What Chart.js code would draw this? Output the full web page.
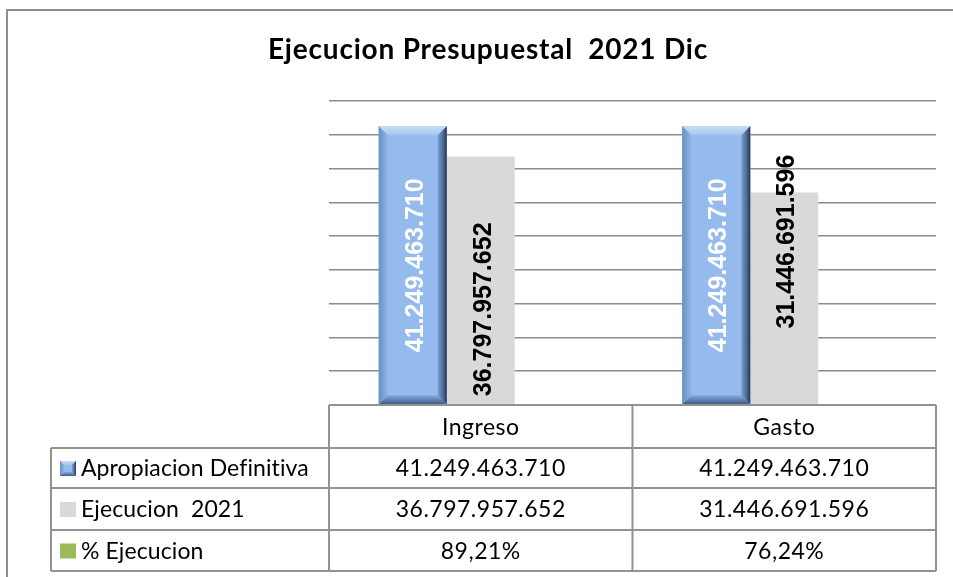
<!DOCTYPE html>
<html>
<head>
<meta charset="utf-8">
<script src="https://cdn.jsdelivr.net/npm/chart.js@4.4.1/dist/chart.umd.min.js"></script>
<style>
  html, body { margin: 0; padding: 0; background: #ffffff; }
  #wrap { width: 953px; height: 577px; position: relative; }
</style>
</head>
<body>
<div id="wrap"><canvas id="c" width="953" height="577"></canvas></div>
<script>
// ---- Data ----
const chartTitle = 'Ejecucion Presupuestal  2021 Dic';
const categories = ['Ingreso', 'Gasto'];
const seriesNames = ['Apropiacion Definitiva', 'Ejecucion  2021', '% Ejecucion'];
const apropiacion = [41249463710, 41249463710];
const ejecucion = [36797957652, 31446691596];
const pctEjecucion = [89.21, 76.24];
const yMax = 45000000000;
const yStep = 5000000000;

// ---- Style ----
const COLORS = ['#95BBEE', '#D9D9D9', '#9BBB59'];
const GRID = '#8c8c8c';
const TABLE_LINE = '#929292';
const TABLE_FONT = '23px Lato, "Open Sans", sans-serif';
const LABEL_FONT = 'bold 25px "Liberation Sans", Arial, sans-serif';

function fmtNum(v) {
  return String(Math.round(v)).replace(/\B(?=(\d{3})+(?!\d))/g, '.');
}
function fmtPct(v) {
  return v.toFixed(2).replace('.', ',') + '%';
}

function drawBevel(ctx, L, T, R, B, d) {
  const face = COLORS[0];
  ctx.save();
  ctx.fillStyle = face;
  ctx.fillRect(L, T, R - L, B - T);
  let g;
  g = ctx.createLinearGradient(0, T, 0, T + d);
  g.addColorStop(0, '#c9ddf6'); g.addColorStop(1, '#a3c5f0');
  ctx.fillStyle = g;
  ctx.beginPath(); ctx.moveTo(L, T); ctx.lineTo(R, T); ctx.lineTo(R - d, T + d); ctx.lineTo(L + d, T + d); ctx.closePath(); ctx.fill();
  g = ctx.createLinearGradient(L, 0, L + d, 0);
  g.addColorStop(0, '#6a8fc2'); g.addColorStop(1, '#8fb5ea');
  ctx.fillStyle = g;
  ctx.beginPath(); ctx.moveTo(L, T); ctx.lineTo(L + d, T + d); ctx.lineTo(L + d, B - d); ctx.lineTo(L, B); ctx.closePath(); ctx.fill();
  g = ctx.createLinearGradient(R - d, 0, R, 0);
  g.addColorStop(0, '#7c9fd0'); g.addColorStop(0.6, '#4b6a95'); g.addColorStop(1, '#233650');
  ctx.fillStyle = g;
  ctx.beginPath(); ctx.moveTo(R, T); ctx.lineTo(R, B); ctx.lineTo(R - d, B - d); ctx.lineTo(R - d, T + d); ctx.closePath(); ctx.fill();
  g = ctx.createLinearGradient(0, B - d, 0, B);
  g.addColorStop(0, '#86aadd'); g.addColorStop(1, '#3f5d86');
  ctx.fillStyle = g;
  ctx.beginPath(); ctx.moveTo(L, B); ctx.lineTo(R, B); ctx.lineTo(R - d, B - d); ctx.lineTo(L + d, B - d); ctx.closePath(); ctx.fill();
  ctx.restore();
}

const bevelPlugin = {
  id: 'bevel',
  afterDatasetDraw(chart, args) {
    if (args.index !== 0) return;
    const ctx = chart.ctx;
    args.meta.data.forEach(el => {
      const p = el.getProps(['x', 'y', 'base', 'width'], true);
      drawBevel(ctx, p.x - p.width / 2, p.y, p.x + p.width / 2, p.base, 9);
    });
  }
};

const labelPlugin = {
  id: 'barLabels',
  afterDatasetsDraw(chart) {
    const ctx = chart.ctx;
    ctx.save();
    ctx.font = LABEL_FONT;
    ctx.textBaseline = 'middle';
    [0, 1].forEach(di => {
      const meta = chart.getDatasetMeta(di);
      meta.data.forEach((el, i) => {
        const p = el.getProps(['x', 'y', 'base'], true);
        const txt = fmtNum(chart.data.datasets[di].data[i]);
        ctx.save();
        let yy, align;
        if (di === 0) { yy = (p.y + p.base) / 2; align = 'center'; ctx.fillStyle = '#ffffff'; }
        else if (i === 0) { yy = p.base - 8; align = 'left'; ctx.fillStyle = '#000000'; }
        else { yy = p.y + 49; align = 'center'; ctx.fillStyle = '#000000'; }
        ctx.translate(p.x + 3, yy);
        ctx.rotate(-Math.PI / 2);
        ctx.textAlign = align;
        ctx.fillText(txt, 0, 0);
        ctx.restore();
      });
    });
    ctx.restore();
  }
};

const framePlugin = {
  id: 'frame',
  afterDraw(chart) {
    const ctx = chart.ctx;
    const ca = chart.chartArea;
    const xs = chart.scales.x;
    ctx.save();
    ctx.strokeStyle = '#8e8e8e';
    ctx.lineWidth = 2;
    ctx.beginPath();
    ctx.moveTo(7, 577); ctx.lineTo(7, 10); ctx.lineTo(953, 10);
    ctx.stroke();

    // title
    ctx.fillStyle = '#000';
    ctx.font = 'bold 28px Lato, "Open Sans", sans-serif';
    ctx.letterSpacing = '0.8px';
    ctx.textAlign = 'center';
    ctx.textBaseline = 'middle';
    ctx.fillText(chartTitle, 488, 50);

    const tLeft = 51;
    const rows = [ca.bottom, ca.bottom + 43, ca.bottom + 83, ca.bottom + 125, ca.bottom + 166];
    const cols = [ca.left];
    for (let i = 0; i < categories.length - 1; i++) {
      cols.push((xs.getPixelForValue(i) + xs.getPixelForValue(i + 1)) / 2);
    }
    cols.push(ca.right);

    ctx.strokeStyle = TABLE_LINE;
    ctx.lineWidth = 2;
    ctx.beginPath();
    ctx.moveTo(ca.left, rows[0]); ctx.lineTo(ca.right, rows[0]);
    for (let r = 1; r < rows.length; r++) { ctx.moveTo(tLeft, rows[r]); ctx.lineTo(ca.right, rows[r]); }
    ctx.moveTo(tLeft, rows[1]); ctx.lineTo(tLeft, rows[4]);
    cols.forEach(cx => { ctx.moveTo(cx, rows[0]); ctx.lineTo(cx, rows[4]); });
    ctx.stroke();

    ctx.font = TABLE_FONT;
    ctx.fillStyle = '#000';
    ctx.textBaseline = 'middle';
    ctx.textAlign = 'center';
    ctx.letterSpacing = '0.5px';
    categories.forEach((c, i) => {
      ctx.fillText(c, (cols[i] + cols[i + 1]) / 2, (rows[0] + rows[1]) / 2 + 1);
    });
    const rowVals = chart.data.datasets.map(d => d.data);
    rowVals.forEach((vals, r) => {
      const cy = (rows[r + 1] + rows[r + 2]) / 2 + 1;
      ctx.letterSpacing = '0.5px';
      vals.forEach((v, i) => {
        ctx.textAlign = 'center';
        ctx.fillText(r === 2 ? fmtPct(v) : fmtNum(v), (cols[i] + cols[i + 1]) / 2, cy);
      });
      const kx = 60, ky = cy - 8, kw = 16, kh = 15;
      if (r === 0) drawBevel(ctx, kx, ky, kx + kw, ky + kh, 4);
      else { ctx.fillStyle = COLORS[r]; ctx.fillRect(kx, ky, kw, kh); }
      ctx.fillStyle = '#000';
      ctx.textAlign = 'left';
      ctx.letterSpacing = '0.1px';
      ctx.fillText(seriesNames[r], 81, cy);
    });
    ctx.restore();
  }
};

new Chart(document.getElementById('c'), {
  type: 'bar',
  data: {
    labels: categories,
    datasets: [
      { label: seriesNames[0], data: apropiacion, backgroundColor: COLORS[0] },
      { label: seriesNames[1], data: ejecucion, backgroundColor: COLORS[1] },
      { label: seriesNames[2], data: pctEjecucion, backgroundColor: COLORS[2] }
    ]
  },
  options: {
    responsive: false,
    animation: false,
    events: [],
    layout: { padding: { left: 329, right: 17, top: 101, bottom: 172 } },
    datasets: { bar: { categoryPercentage: 0.672, barPercentage: 1.0, borderWidth: 0 } },
    plugins: { legend: { display: false }, title: { display: false }, tooltip: { enabled: false } },
    scales: {
      x: { display: false, grid: { display: false } },
      y: {
        min: 0, max: yMax,
        border: { display: false },
        ticks: { display: false, stepSize: yStep },
        grid: {
          drawTicks: false,
          lineWidth: 1.5,
          color: c => (c.tick && c.tick.value === 0) ? 'rgba(0,0,0,0)' : GRID
        }
      }
    }
  },
  plugins: [bevelPlugin, labelPlugin, framePlugin]
});
</script>
</body>
</html>
